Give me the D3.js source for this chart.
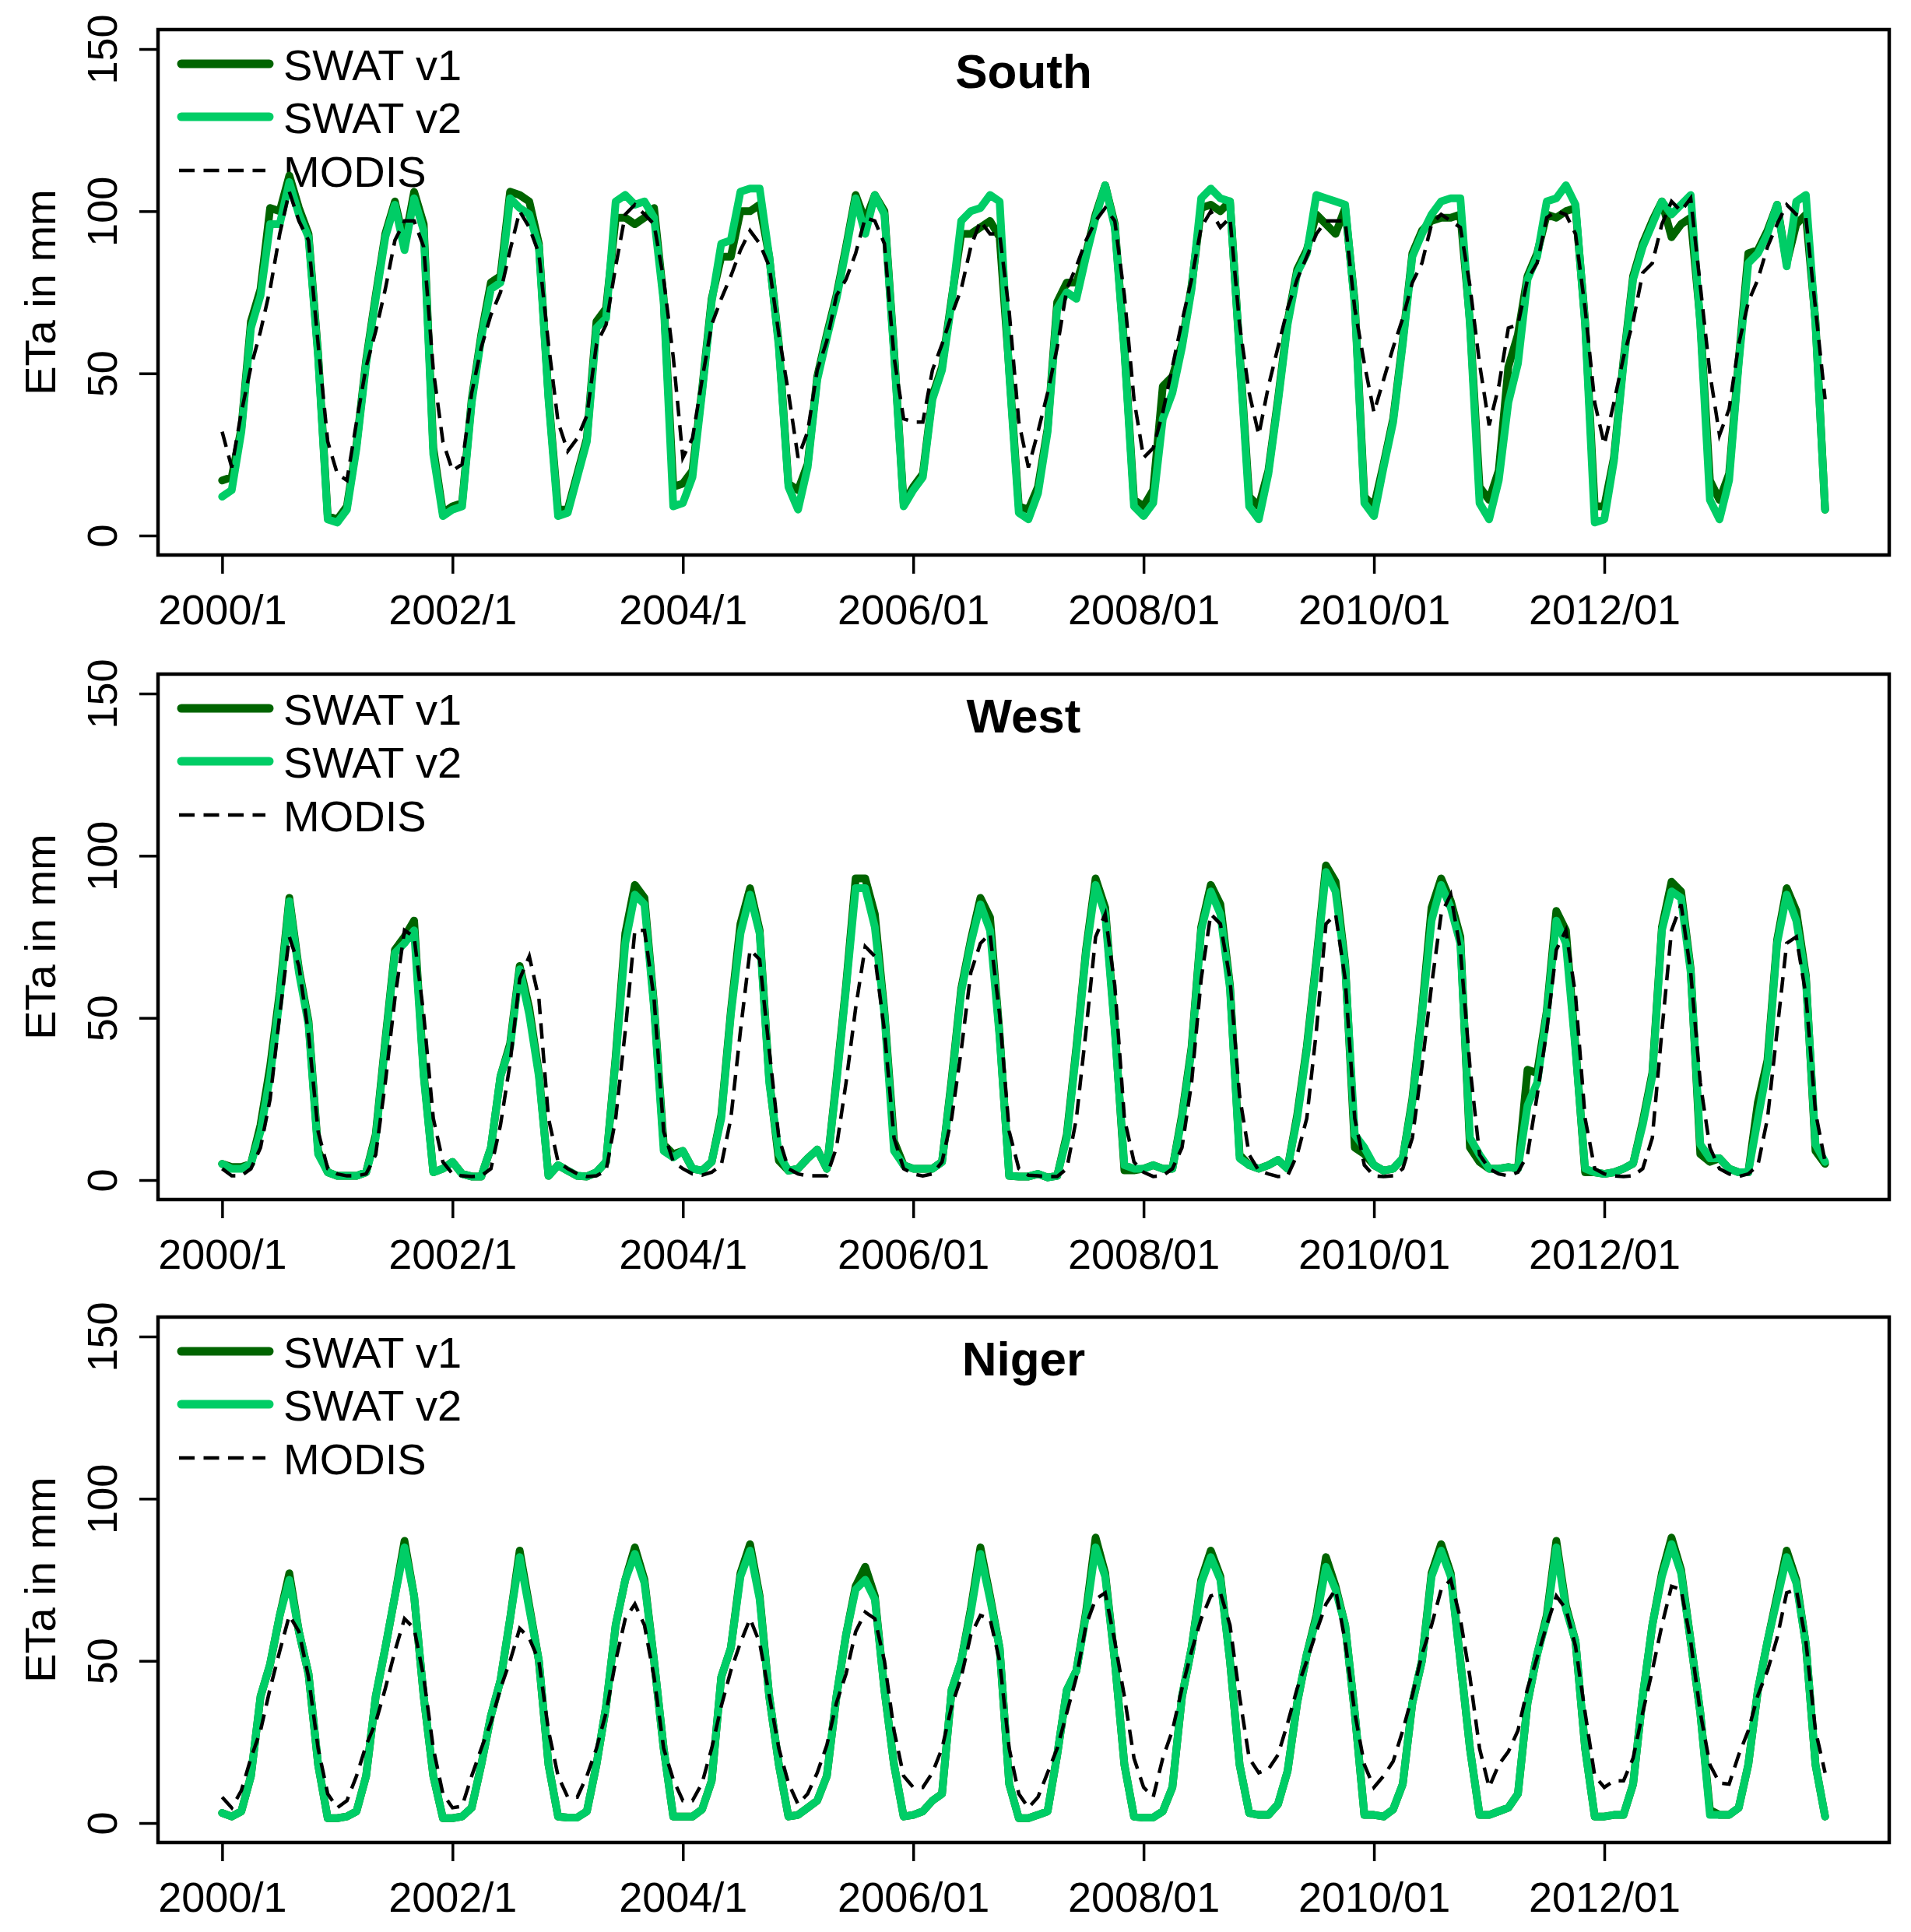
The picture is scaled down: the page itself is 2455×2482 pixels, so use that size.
<!DOCTYPE html>
<html>
<head>
<meta charset="utf-8">
<script src="https://cdn.jsdelivr.net/npm/d3@7"></script>
<style>
  body { margin: 0; background: #fff; }
  svg { display: block; font-family: "Liberation Sans", Arial, sans-serif; }
</style>
</head>
<body>
<svg id="chart"></svg>
<script>
// monthly ETa (mm), Jan 2000 .. Dec 2013, one row per year
const panelNames = ["South", "West", "Niger"];
const seriesNames = ["SWAT v1", "SWAT v2", "MODIS"];
const yTicks = [0, 50, 100, 150];
const xTickMonths = [0, 24, 48, 72, 96, 120, 144];
const xTickLabels = ["2000/1", "2002/1", "2004/1", "2006/01", "2008/01", "2010/01", "2012/01"];

const southV1 = [
  17, 18, 33, 66, 76, 101, 100, 111, 101, 93, 56, 6,
  5, 9, 28, 54, 74, 93, 103, 90, 106, 96, 27, 7,
  9, 10, 42, 62, 78, 80, 106, 105, 103, 90, 43, 8,
  8, 19, 30, 66, 70, 98, 98, 96, 98, 101, 73, 15,
  16, 20, 45, 73, 86, 86, 100, 100, 102, 86, 59, 16,
  14, 22, 49, 62, 74, 89, 105, 97, 105, 100, 57, 10,
  15, 19, 43, 52, 73, 93, 93, 95, 97, 92, 51, 9,
  8, 15, 33, 72, 78, 78, 87, 99, 108, 96, 58, 11,
  9, 14, 46, 49, 59, 77, 101, 102, 100, 103, 57, 12,
  9, 20, 42, 66, 82, 88, 99, 96, 93, 101, 72, 12,
  9, 22, 36, 60, 87, 94, 97, 98, 98, 99, 66, 15,
  11, 20, 52, 62, 80, 87, 99, 98, 100, 101, 66, 9,
  9, 24, 54, 80, 90, 97, 103, 92, 96, 98, 66, 17,
  11, 19, 54, 87, 88, 94, 102, 84, 96, 99, 66, 8
];
const southV2 = [
  12, 14, 32, 64, 74, 96, 96, 109, 99, 92, 55, 5,
  4, 8, 27, 53, 73, 92, 102, 88, 104, 94, 25, 6,
  8, 9, 41, 61, 76, 78, 104, 101, 99, 89, 42, 6,
  7, 18, 29, 64, 67, 103, 105, 102, 103, 98, 72, 9,
  10, 18, 44, 72, 90, 91, 106, 107, 107, 86, 58, 15,
  8, 21, 48, 61, 73, 88, 104, 93, 105, 99, 56, 9,
  14, 18, 42, 51, 72, 97, 100, 101, 105, 103, 50, 7,
  5, 13, 32, 70, 75, 73, 86, 98, 108, 95, 57, 9,
  6, 10, 36, 44, 58, 76, 104, 107, 104, 103, 56, 9,
  5, 19, 41, 65, 81, 87, 105, 104, 103, 102, 71, 10,
  6, 21, 35, 59, 86, 93, 99, 103, 104, 104, 65, 10,
  5, 17, 41, 53, 79, 86, 103, 104, 108, 102, 65, 4,
  5, 23, 53, 79, 89, 96, 103, 99, 102, 105, 65, 11,
  5, 17, 53, 84, 87, 93, 102, 83, 103, 105, 65, 8
];
const southModis = [
  32, 21, 38, 52, 63, 76, 93, 106, 97, 91, 59, 29,
  19, 17, 35, 52, 63, 76, 91, 97, 97, 89, 51, 29,
  20, 22, 44, 58, 68, 75, 88, 100, 95, 87, 59, 35,
  26, 30, 37, 59, 65, 83, 99, 102, 99, 96, 79, 55,
  24, 30, 48, 65, 73, 80, 88, 94, 90, 83, 62, 44,
  24, 32, 51, 60, 74, 79, 87, 98, 97, 90, 55, 36,
  35, 35, 51, 59, 68, 76, 89, 97, 93, 93, 69, 35,
  21, 32, 44, 58, 76, 83, 91, 97, 101, 97, 74, 42,
  24, 27, 38, 52, 66, 79, 95, 100, 95, 98, 65, 44,
  31, 46, 58, 70, 79, 86, 93, 97, 97, 97, 70, 53,
  38, 48, 58, 67, 78, 84, 96, 99, 97, 95, 77, 53,
  34, 46, 64, 65, 79, 84, 98, 100, 99, 93, 70, 41,
  28, 41, 55, 66, 81, 84, 96, 103, 100, 104, 77, 50,
  31, 39, 59, 72, 79, 89, 96, 102, 99, 98, 70, 42
];

const westV1 = [
  5, 4, 4, 5, 17, 35, 58, 87, 65, 49, 9, 2.4,
  1.3, 1.3, 1.3, 2.4, 14, 43, 71, 75, 80, 33, 2.4, 3.5,
  5.6, 1.9, 1.1, 1.1, 10, 32, 42, 66, 53, 33, 1.3, 4.6,
  2.9, 1.3, 1.1, 2.4, 5.6, 38, 76, 91, 87, 54, 11, 8,
  9, 3.5, 2.9, 5.6, 20, 52, 79, 90, 77, 31, 6, 2.9,
  3.5, 6.7, 9.4, 3.5, 31, 60, 93, 93, 82, 52, 12, 4.6,
  3.5, 3.5, 3.5, 5.6, 31, 59, 74, 87, 81, 45, 1.3, 1.1,
  1.1, 1.9, 0.8, 1.3, 14, 41, 71, 93, 84, 47, 3, 3,
  3.5, 4.6, 3.5, 3.5, 20, 41, 78, 91, 85, 60, 7.8, 4.6,
  3.5, 4.6, 6.2, 3.5, 20, 41, 68, 97, 92, 67, 10, 8,
  4.6, 2.9, 3.5, 6.7, 25, 52, 84, 93, 86, 75, 10, 5.6,
  3.5, 3.5, 4, 3.5, 34, 33, 52, 83, 77, 41, 2.4, 2.4,
  1.9, 2.4, 3.5, 5.1, 18, 33, 78, 92, 89, 65, 8, 5.6,
  6.7, 3.5, 2.4, 2.4, 24, 37, 74, 90, 83, 63, 9, 5
];
const westV2 = [
  5, 3.5, 3.5, 5, 15, 32, 56, 86, 64, 48, 8, 2.4,
  1.3, 1.3, 1.3, 2.4, 13, 42, 70, 73, 77, 32, 2.4, 3.5,
  5.6, 1.9, 1.1, 1.1, 10, 32, 41, 65, 51, 32, 1.3, 4.6,
  2.9, 1.3, 1.1, 2.4, 5.6, 37, 73, 88, 85, 53, 9, 7,
  9, 3.5, 2.9, 5.6, 19, 51, 76, 88, 76, 30, 8, 2.9,
  3.5, 6.7, 9.4, 3.5, 30, 59, 90, 90, 78, 51, 9, 4.6,
  3.5, 3.5, 3.5, 5.6, 30, 58, 73, 85, 77, 44, 1.3, 1.1,
  1.1, 1.9, 0.8, 1.3, 13, 40, 70, 91, 82, 46, 4.6, 3.5,
  3.5, 4.6, 3.5, 3.5, 19, 40, 77, 89, 82, 59, 6.7, 4.6,
  3.5, 4.6, 6.2, 3.5, 19, 40, 67, 95, 89, 66, 14, 10,
  4.6, 2.9, 3.5, 6.7, 24, 51, 80, 91, 84, 73, 13, 7.8,
  3.5, 3.5, 4, 3.5, 23, 30, 51, 80, 73, 40, 3.5, 2.4,
  1.9, 2.4, 3.5, 5.1, 17, 32, 77, 89, 87, 64, 11, 6.7,
  6.7, 3.5, 2.4, 2.4, 19, 35, 73, 88, 80, 62, 11, 5.6
];
const westModis = [
  3.5, 1.3, 1.3, 3.5, 10, 25, 51, 75, 66, 45, 15, 3.5,
  1.9, 1.3, 1.3, 1.9, 7.8, 30, 56, 77, 75, 51, 19, 5.6,
  1.9, 1.3, 1.1, 1.3, 3.5, 17, 36, 62, 69, 56, 19, 5.6,
  3.5, 1.9, 1.1, 1.3, 2.9, 19, 46, 77, 77, 56, 15, 5.6,
  3.5, 1.9, 1.5, 2.4, 4.6, 19, 46, 71, 68, 40, 13, 3.5,
  1.9, 1.3, 1.3, 1.3, 10, 30, 53, 72, 69, 46, 13, 3.5,
  1.9, 1.3, 1.9, 5.6, 19, 40, 64, 73, 76, 51, 15, 3.5,
  1.5, 1.3, 1.1, 1.1, 3.5, 19, 46, 75, 82, 60, 19, 5.6,
  2.4, 1.1, 1.3, 3.5, 10, 30, 62, 82, 79, 62, 26, 7.8,
  2.9, 1.9, 1.1, 1.3, 7.8, 19, 46, 79, 82, 62, 19, 4.6,
  1.3, 1.1, 1.3, 3.5, 13, 35, 60, 82, 88, 71, 35, 7.8,
  3.5, 1.9, 1.3, 2.4, 7.8, 26, 46, 71, 77, 57, 19, 3.5,
  1.9, 1.3, 1.1, 1.3, 3.5, 13, 46, 77, 85, 64, 30, 10,
  3.5, 1.9, 1.1, 1.9, 4.6, 19, 46, 73, 75, 57, 21, 5.6
];

const nigerV1 = [
  3.1, 2, 3.6, 14.5, 39, 49, 64, 77, 59, 46, 18, 1.5,
  1.5, 2, 3.6, 14.5, 39, 54, 70, 87, 70, 39, 14.5, 1.5,
  1.5, 2, 4.7, 18, 33, 44, 63, 84, 67, 50, 18, 2,
  1.7, 1.7, 3.6, 18, 36, 61, 75, 85, 75, 50, 23, 2,
  2, 2, 4.2, 13, 45, 54, 77, 86, 70, 39, 18, 2,
  2.5, 4.7, 6.9, 14.5, 39, 58, 73, 79, 70, 41, 18, 2,
  2.5, 3.6, 6.9, 9, 41, 50, 66, 85, 70, 54, 12, 1.5,
  1.5, 2.5, 3.6, 21, 41, 47, 65, 88, 77, 50, 18, 2,
  1.7, 1.7, 3.6, 11, 39, 54, 75, 84, 76, 50, 18, 3.1,
  2.5, 2.5, 5.8, 16, 37, 52, 64, 82, 73, 61, 34, 2.5,
  2.5, 2, 4.2, 12, 37, 50, 77, 86, 77, 50, 23, 2.5,
  2.5, 3.6, 4.7, 9, 37, 52, 64, 87, 67, 56, 23, 2,
  2, 2.5, 2.5, 12, 39, 61, 77, 88, 78, 56, 34, 4,
  2.5, 2.5, 4.7, 18, 41, 56, 70, 84, 75, 55, 18, 2
];
const nigerV2 = [
  3.1, 2, 3.6, 14.5, 39, 49, 64, 75, 59, 46, 18, 1.5,
  1.5, 2, 3.6, 14.5, 39, 54, 70, 85, 70, 39, 14.5, 1.5,
  1.5, 2, 4.7, 18, 33, 44, 63, 82, 66, 50, 18, 2,
  1.7, 1.7, 3.6, 18, 36, 61, 75, 83, 74, 50, 23, 2,
  2, 2, 4.2, 13, 45, 54, 76, 84, 69, 39, 18, 2,
  2.5, 4.7, 6.9, 14.5, 39, 58, 72, 75, 69, 41, 18, 2,
  2.5, 3.6, 6.9, 9, 41, 50, 65, 83, 69, 54, 12, 1.5,
  1.5, 2.5, 3.6, 21, 41, 47, 64, 85, 76, 50, 18, 2,
  1.7, 1.7, 3.6, 11, 39, 54, 74, 82, 75, 50, 18, 3.1,
  2.5, 2.5, 5.8, 16, 37, 52, 63, 79, 72, 61, 34, 2.5,
  2.5, 2, 4.2, 12, 37, 50, 76, 84, 76, 50, 23, 2.5,
  2.5, 3.6, 4.7, 9, 37, 52, 63, 85, 66, 56, 23, 2,
  2, 2.5, 2.5, 12, 39, 61, 76, 86, 77, 56, 34, 2.5,
  2.5, 2.5, 4.7, 18, 41, 56, 69, 82, 74, 55, 18, 2
];
const nigerModis = [
  8, 4.7, 10, 20, 28.5, 41.5, 53, 64, 59, 45, 23, 9,
  4.7, 6.9, 14.5, 24, 31, 41.5, 53, 63, 60, 45, 23, 9,
  4.7, 5.2, 14.5, 23, 31, 41.5, 50, 60, 57, 50, 28.5, 14.5,
  8, 8, 14.5, 23, 34, 50, 63, 67.5, 61, 45, 23, 13.4,
  6.9, 6.9, 12.3, 23, 36, 47, 55.6, 63, 55.6, 39.4, 23, 12.3,
  5.8, 9, 15.5, 24, 37, 46, 59, 65, 63, 50, 28.5, 14.5,
  11, 11, 15.5, 23, 36, 45, 58, 64, 63, 50, 23, 9,
  4.7, 8, 15.5, 23, 34, 45, 61, 69, 71, 56, 39, 20,
  11, 8, 20, 28.5, 41.5, 53, 63, 70, 71, 61, 39, 20,
  15.5, 16.6, 21, 30.7, 41.5, 50, 59, 67.5, 72, 56, 34, 18,
  11, 14.5, 19, 28.5, 39.4, 52, 61, 72, 75, 63, 45, 23,
  11, 18, 22, 28.5, 41.5, 51, 61, 70, 66, 54.5, 34, 14.5,
  11, 13, 13, 20, 34, 47, 61, 73, 72, 56, 34, 18,
  12.3, 12, 21, 28.5, 39.4, 47, 57, 71, 72, 56, 28.5, 15.5
];

const panelSeries = [
  [southV1, southV2, southModis],
  [westV1, westV2, westModis],
  [nigerV1, nigerV2, nigerModis],
];

const layout = {
  width: 2455,
  height: 2482,
  boxLeft: 203,
  boxRight: 2427,
  boxHeight: 675,
  panelTops: [38, 866, 1692],
  colors: ["#006400", "#00cd66", "#000000"],
  tickFont: 54,
  labelFont: 56,
};

function drawPanel(svg, p) {
  const top = layout.panelTops[p];
  const bottom = top + layout.boxHeight;
  const [v1, v2, modis] = panelSeries[p];

  const x = d3.scaleLinear().domain([-6.68, 173.68]).range([layout.boxLeft, layout.boxRight]);
  const y = d3.scaleLinear().domain([-6, 156]).range([bottom, top]);

  const g = svg.append("g").attr("class", "panel");

  // axes (R style: ticks outside, labels below / rotated on the left)
  const xAxis = g.append("g")
    .attr("transform", `translate(0,${bottom})`)
    .call(d3.axisBottom(x).tickValues(xTickMonths).tickFormat((d, i) => xTickLabels[i]).tickSize(24).tickSizeOuter(0));
  xAxis.select(".domain").remove();
  xAxis.selectAll("line").attr("stroke", "#000").attr("stroke-width", 3.5);
  xAxis.selectAll("text")
    .attr("y", 89).attr("dy", null)
    .attr("fill", "#000")
    .style("font-size", layout.tickFont + "px")
    .style("font-family", '"Liberation Sans", Arial, sans-serif');

  const yAxis = g.append("g")
    .attr("transform", `translate(${layout.boxLeft},0)`)
    .call(d3.axisLeft(y).tickValues(yTicks).tickSize(24).tickSizeOuter(0));
  yAxis.select(".domain").remove();
  yAxis.selectAll("line").attr("stroke", "#000").attr("stroke-width", 3.5);
  yAxis.selectAll("text")
    .attr("transform", "rotate(-90)")
    .attr("x", 0).attr("y", -53).attr("dy", null)
    .attr("text-anchor", "middle")
    .attr("fill", "#000")
    .style("font-size", layout.tickFont + "px")
    .style("font-family", '"Liberation Sans", Arial, sans-serif');

  g.append("text")
    .attr("transform", `translate(71,${(top + bottom) / 2}) rotate(-90)`)
    .attr("text-anchor", "middle")
    .style("font-size", layout.labelFont + "px")
    .text("ETa in mm");

  // legend (no box)
  const legend = g.append("g").attr("transform", `translate(0,${top})`);
  const legendRows = [44, 112, 181];
  seriesNames.forEach((name, i) => {
    legend.append("line")
      .attr("x1", i === 2 ? 230 : 233).attr("x2", i === 2 ? 341 : 346)
      .attr("y1", legendRows[i]).attr("y2", legendRows[i])
      .attr("stroke", layout.colors[i])
      .attr("stroke-width", i === 2 ? 4.5 : 11)
      .attr("stroke-linecap", i === 2 ? "butt" : "round")
      .attr("stroke-dasharray", i === 2 ? "20,11.5" : null);
    legend.append("text")
      .attr("x", 364).attr("y", legendRows[i] + 20.5)
      .style("font-size", layout.labelFont + "px")
      .text(name);
  });

  // title
  g.append("text")
    .attr("x", (layout.boxLeft + layout.boxRight) / 2)
    .attr("y", top + 75)
    .attr("text-anchor", "middle")
    .style("font-size", "62px")
    .style("font-weight", "bold")
    .text(panelNames[p]);

  // series: dark v1 under light v2, MODIS dashed on top
  const line = d3.line().x((d, i) => x(i)).y((d) => y(d));
  g.append("path").datum(v1)
    .attr("fill", "none").attr("stroke", layout.colors[0])
    .attr("stroke-width", 10).attr("stroke-linejoin", "round").attr("stroke-linecap", "round")
    .attr("d", line);
  g.append("path").datum(v2)
    .attr("fill", "none").attr("stroke", layout.colors[1])
    .attr("stroke-width", 10).attr("stroke-linejoin", "round").attr("stroke-linecap", "round")
    .attr("d", line);
  g.append("path").datum(modis)
    .attr("fill", "none").attr("stroke", layout.colors[2])
    .attr("stroke-width", 4.5).attr("stroke-dasharray", "20,11.5")
    .attr("d", line);

  // box
  g.append("rect")
    .attr("x", layout.boxLeft).attr("y", top)
    .attr("width", layout.boxRight - layout.boxLeft).attr("height", layout.boxHeight)
    .attr("fill", "none").attr("stroke", "#000").attr("stroke-width", 4.5);
}

function main() {
  const svg = d3.select("svg#chart")
    .attr("width", layout.width)
    .attr("height", layout.height)
    .style("background", "#fff");
  panelNames.forEach((_, p) => drawPanel(svg, p));
}

main();
</script>
</body>
</html>
